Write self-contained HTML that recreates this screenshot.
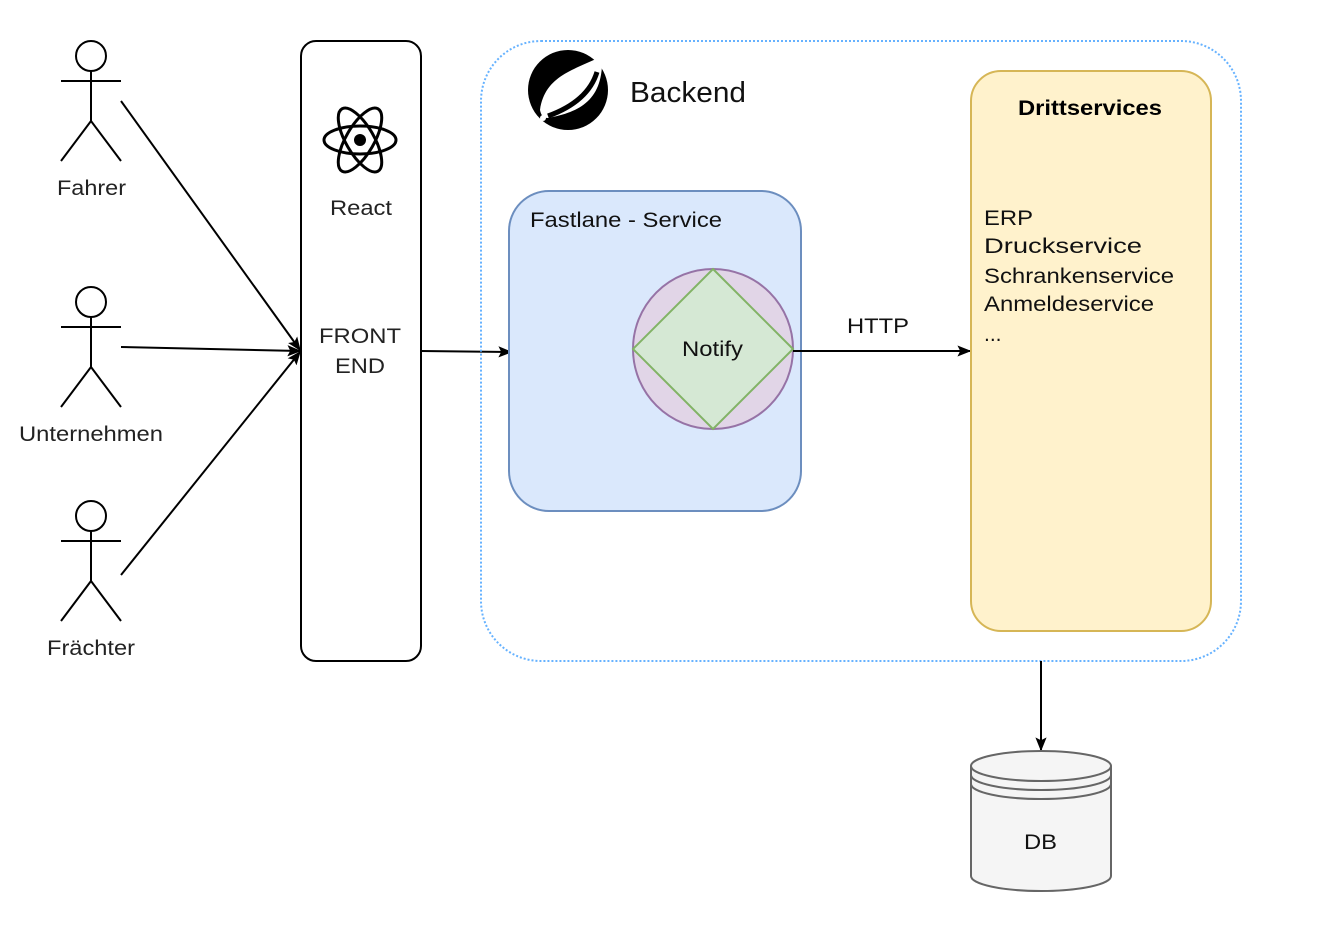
<!DOCTYPE html>
<html><head><meta charset="utf-8"><style>body{margin:0;background:#fff}svg{display:block}text{font-family:"Liberation Sans",Arial,sans-serif}</style></head>
<body>
<svg width="1340" height="940" viewBox="0 0 1340 940" xmlns="http://www.w3.org/2000/svg">
<defs>
<marker id="b" viewBox="0 0 10 10" refX="9" refY="5" markerWidth="14" markerHeight="14" markerUnits="userSpaceOnUse" orient="auto"><path d="M0,1 L10,5 L0,9 L2,5 z" fill="#000"/></marker></defs>
<g fill="none" stroke="#000" stroke-width="2">
<circle cx="91" cy="56" r="15" fill="#fff"/><path d="M91 71V121M61 81H121M91 121L61 161M91 121L121 161"/>
<circle cx="91" cy="302" r="15" fill="#fff"/><path d="M91 317V367M61 327H121M91 367L61 407M91 367L121 407"/>
<circle cx="91" cy="516" r="15" fill="#fff"/><path d="M91 531V581M61 541H121M91 581L61 621M91 581L121 621"/>
</g>
<g font-size="21" fill="#222"><text x="57" y="195" textLength="69" lengthAdjust="spacingAndGlyphs">Fahrer</text><text x="19" y="441" textLength="144" lengthAdjust="spacingAndGlyphs">Unternehmen</text><text x="47" y="655" textLength="88" lengthAdjust="spacingAndGlyphs">Frächter</text></g>
<rect x="301" y="41" width="120" height="620" rx="15" fill="#fff" stroke="#000" stroke-width="2"/>
<g fill="none" stroke="#000" stroke-width="3"><ellipse cx="360" cy="140" rx="36" ry="14"/><ellipse cx="360" cy="140" rx="36" ry="14" transform="rotate(60 360 140)"/><ellipse cx="360" cy="140" rx="36" ry="14" transform="rotate(-60 360 140)"/></g>
<circle cx="360" cy="140" r="6" fill="#000"/>
<g font-size="21" fill="#222"><text x="330" y="215" textLength="62" lengthAdjust="spacingAndGlyphs">React</text><text x="319" y="343" textLength="82" lengthAdjust="spacingAndGlyphs">FRONT</text><text x="335" y="373" textLength="50" lengthAdjust="spacingAndGlyphs">END</text></g>
<g stroke="#000" stroke-width="2"><line x1="121" y1="101" x2="300" y2="350" marker-end="url(#b)"/><line x1="121" y1="347" x2="300" y2="351" marker-end="url(#b)"/><line x1="121" y1="575" x2="300" y2="352" marker-end="url(#b)"/><line x1="421" y1="351" x2="511" y2="352" marker-end="url(#b)"/></g>
<rect x="481" y="41" width="760" height="620" rx="60" fill="none" stroke="#66b2ff" stroke-width="2" stroke-dasharray="2 2"/>
<circle cx="568" cy="90" r="40" fill="#000"/>
<path d="M602 56 C 575 70 545 75 540 110 C 541 115 543 118 548 118 C 580 112 604 100 602 56 z" fill="#fff"/>
<path d="M548 116 C 570 108 590 95 597 72" stroke="#000" stroke-width="5" fill="none"/>
<circle cx="543" cy="118" r="3" fill="#fff"/>
<text x="630" y="102" font-size="29" fill="#111" textLength="116" lengthAdjust="spacingAndGlyphs">Backend</text>
<rect x="509" y="191" width="292" height="320" rx="40" fill="#dae8fc" stroke="#6c8ebf" stroke-width="2"/>
<text x="530" y="227" font-size="21" fill="#111" textLength="192" lengthAdjust="spacingAndGlyphs">Fastlane - Service</text>
<circle cx="713" cy="349" r="80" fill="#e1d5e7" stroke="#9673a6" stroke-width="2"/>
<path d="M713 269L793 349L713 429L633 349z" fill="#d5e8d4" stroke="#82b366" stroke-width="2"/>
<text x="682" y="356" font-size="21" fill="#111" textLength="61" lengthAdjust="spacingAndGlyphs">Notify</text>
<line x1="793" y1="351" x2="970" y2="351" stroke="#000" stroke-width="2" marker-end="url(#b)"/>
<text x="847" y="333" font-size="21" fill="#111" textLength="62" lengthAdjust="spacingAndGlyphs">HTTP</text>
<rect x="971" y="71" width="240" height="560" rx="30" fill="#fff2cc" stroke="#d6b656" stroke-width="2"/>
<text x="1018" y="115" font-size="21" font-weight="bold" fill="#000" textLength="144" lengthAdjust="spacingAndGlyphs">Drittservices</text>
<g font-size="21" fill="#111"><text x="984" y="225" textLength="49" lengthAdjust="spacingAndGlyphs">ERP</text><text x="984" y="253" textLength="158" lengthAdjust="spacingAndGlyphs">Druckservice</text><text x="984" y="283" textLength="190" lengthAdjust="spacingAndGlyphs">Schrankenservice</text><text x="984" y="311" textLength="170" lengthAdjust="spacingAndGlyphs">Anmeldeservice</text><text x="984" y="341">...</text></g>
<line x1="1041" y1="661" x2="1041" y2="750" stroke="#000" stroke-width="2" marker-end="url(#b)"/>
<path d="M971 766 A70 15 0 0 1 1111 766 V876 A70 15 0 0 1 971 876 Z" fill="#f5f5f5" stroke="#666" stroke-width="2"/>
<path d="M971 766 A70 15 0 0 0 1111 766 M971 775 A70 15 0 0 0 1111 775 M971 784 A70 15 0 0 0 1111 784" fill="none" stroke="#666" stroke-width="2"/>
<text x="1024" y="849" font-size="21" fill="#111" textLength="33" lengthAdjust="spacingAndGlyphs">DB</text>
</svg>
</body></html>
